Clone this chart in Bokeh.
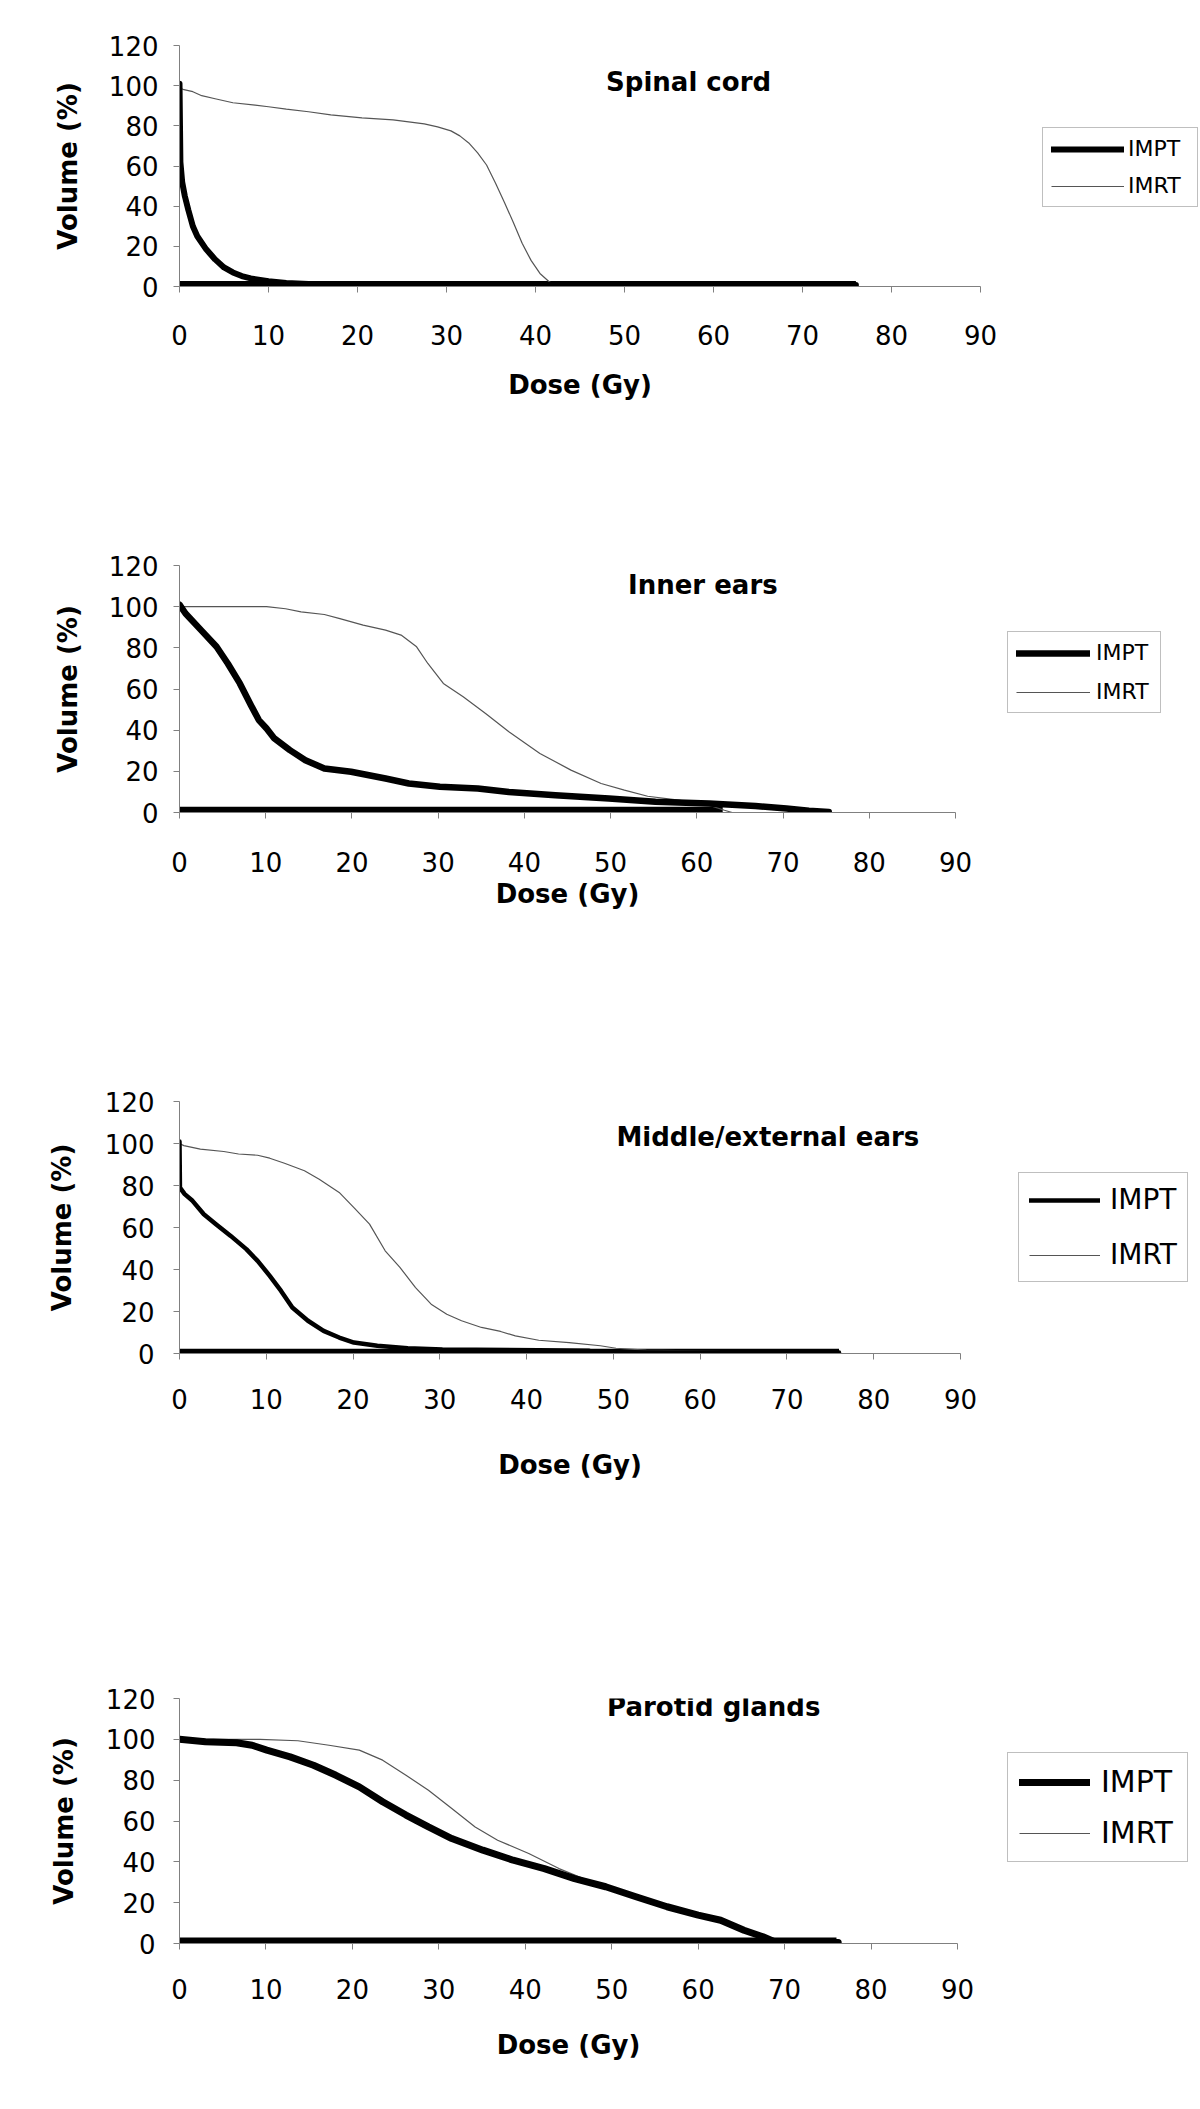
from bokeh.plotting import figure
from bokeh.layouts import column
from bokeh.models import Legend, LegendItem, Label, FixedTicker, Range1d
from bokeh.embed import file_html
from bokeh.resources import INLINE

# ---------------- data ----------------
dose_ticks = [0, 10, 20, 30, 40, 50, 60, 70, 80, 90]
volume_ticks = [0, 20, 40, 60, 80, 100, 120]
series_names = ["IMPT", "IMRT"]
panel_titles = ["Spinal cord", "Inner ears", "Middle/external ears", "Parotid glands"]

# Spinal cord
spinal_impt_dose = [0, 0.1, 0.3, 0.6, 1, 1.5, 2, 3, 4, 5, 6, 7, 8, 10, 12, 14.5, 16, 20, 76]
spinal_impt_vol = [101, 62, 52, 45, 38, 30, 25, 18.5, 13.5, 9.5, 7, 5.2, 4, 2.6, 1.8, 1.3, 1.0, 0.8, 0.8]
spinal_imrt_dose = [0, 0.5, 1.5, 2.5, 4, 6, 8.5, 10, 12, 14.5, 17, 20.5, 24, 27.5, 29, 30.5, 31.5, 32.5,
                    33.5, 34.5, 35.5, 36.5, 37.5, 38.5, 39.5, 40.5, 41.5, 42.3]
spinal_imrt_vol = [99, 98, 97, 95, 93.5, 91.5, 90.3, 89.5, 88.3, 87, 85.5, 84, 83, 81, 79.5, 77.5, 75, 71.5,
                   66.5, 60.5, 51.5, 42, 32, 21.5, 13, 6.5, 2.5, 0.5]

# Inner ears
inner_impt_dose = [0, 0.7, 2.5, 4.3, 5.6, 7, 8.3, 9.2, 10.1, 11, 12.8, 14.6, 16.8, 19.9, 23.9, 26.6, 30.2,
                   34.6, 38.2, 43.6, 49.8, 55.2, 61.4, 66.8, 70.4, 73, 75.3]
inner_impt_vol = [101, 96.7, 88.6, 80.5, 72.4, 62.7, 52, 44.9, 40.8, 36, 30.3, 25.4, 21.4, 19.8, 16.5, 14.1,
                  12.5, 11.7, 10, 8.4, 6.8, 5.2, 4.4, 3.2, 1.9, 0.8, 0.3]
inner_imrt_dose = [0, 10.1, 12.3, 14.1, 16.8, 18.6, 21.3, 23.9, 25.7, 27.5, 28.8, 30.6, 32.9, 35.5, 38.2,
                   41.8, 45.4, 48.9, 51.6, 54.3, 57.9, 61.4, 63.2, 64.1]
inner_imrt_vol = [100, 100, 99, 97.5, 96.2, 94.2, 91, 88.6, 86.2, 80.5, 72.4, 62.7, 56.2, 48.1, 39.2,
                  28.7, 20.6, 14.1, 10.9, 7.9, 6, 3.6, 1.1, 0]

# Middle/external ears
middle_impt_dose = [0, 0.05, 0.6, 1.5, 2.8, 4.2, 5.9, 7.7, 9, 10.4, 11.7, 13, 14.8, 16.6, 18.4, 20.1,
                    22.8, 26.3, 30.3, 41.4, 47.2, 47.6, 76]
middle_impt_vol = [101, 79, 75.9, 72.7, 66.3, 61.6, 56, 49.7, 44.1, 37, 29.8, 21.9, 15.6, 10.8, 7.6, 5.2,
                   3.7, 2.5, 1.9, 1.6, 1.3, 0.5, 0.5]
middle_imrt_dose = [0, 0.5, 2.4, 5.1, 6.8, 9, 10.4, 12.1, 14.4, 16.1, 18.4, 20.1, 21.9, 23.7, 25.4, 27.2,
                    29, 30.8, 32.5, 34.8, 37, 38.7, 41.4, 44.9, 48.5, 50.3, 53.8, 59.1, 62.2, 63.6]
middle_imrt_vol = [100, 99, 97.3, 96.2, 95, 94.4, 93, 90.6, 87, 83, 76.7, 69.5, 61.6, 48.9, 41, 31.4,
                   23.5, 18.7, 15.6, 12.4, 10.5, 8.4, 6.3, 5.2, 3.7, 2.5, 1.6, 1.3, 1.0, 0]

# Parotid glands
parotid_impt_dose = [0, 3, 6.6, 8.4, 10.1, 12.8, 15.5, 18.1, 20.8, 23.5, 26.2, 28.8, 31.5, 35.1, 38.6,
                     42.2, 45.7, 49.3, 52.8, 56.4, 60, 62.6, 65.3, 67.5, 68.9, 70, 76.2]
parotid_impt_vol = [100, 98.8, 98.3, 97.1, 94.7, 91.4, 87.3, 82.4, 76.7, 69.4, 62.9, 57.1, 51.4, 45.7,
                    40.8, 36.7, 31.8, 27.8, 22.9, 18, 13.9, 11.4, 6.5, 3.3, 0.8, 0.5, 0.5]
parotid_imrt_dose = [0, 9.3, 13.7, 17.3, 20.8, 23.5, 26.2, 28.8, 31.5, 34.2, 36.8, 40.4, 43.9, 47.5,
                     51.1, 55.5, 60, 62.6, 65.3, 67.5, 68.9]
parotid_imrt_vol = [100, 100, 99.3, 97.1, 94.7, 89.8, 82.4, 75.1, 66.1, 57.1, 50.6, 44.1, 36.7, 30.5,
                    25.5, 19.2, 13.9, 10.5, 6, 2.5, 0.3]

# IMPT zero-volume baseline (end dose per panel, volume level)
baseline_end_dose = [76, 63, 76, 76]
baseline_vol = 1.2

impt_dose = [spinal_impt_dose, inner_impt_dose, middle_impt_dose, parotid_impt_dose]
impt_vol = [spinal_impt_vol, inner_impt_vol, middle_impt_vol, parotid_impt_vol]
imrt_dose = [spinal_imrt_dose, inner_imrt_dose, middle_imrt_dose, parotid_imrt_dose]
imrt_vol = [spinal_imrt_vol, inner_imrt_vol, middle_imrt_vol, parotid_imrt_vol]

# ---------------- layout / style ----------------
PAGE_W = 1200
FONT = "DejaVu Sans"
AXIS_GRAY = "#808080"

# page coords: fig top, fig height, frame left/right/top/bottom
layouts = [
    dict(T=0, H=520, L=179, R=980, FT=45, FB=286, impt_w=6, leg=(62, 79), leg_fs=22, leg_gw=73,
         leg_pad=8, leg_lw=61, leg_sp=12, leg_std=4, title_xy=(57.2, 101.6),
         xstd=32, xlab_std=22, ystd=15, ylab_std=23),
    dict(T=520, H=540, L=178, R=954, FT=565, FB=812, impt_w=6.5, leg=(52, 99), leg_fs=22, leg_gw=74,
         leg_pad=8, leg_lw=56, leg_sp=14, leg_std=6, title_xy=(60.7, 110.3),
         xstd=33, xlab_std=4, ystd=15, ylab_std=23),
    dict(T=1060, H=590, L=179, R=960, FT=1101, FB=1353, impt_w=4.5, leg=(58, 71), leg_fs=28, leg_gw=71,
         leg_pad=10, leg_lw=67, leg_sp=22, leg_std=10, title_xy=(67.8, 103.3),
         xstd=29, xlab_std=38, ystd=19, ylab_std=25),
    dict(T=1650, H=459, L=174, R=952, FT=1698, FB=1943, impt_w=7, leg=(50, 81), leg_fs=30, leg_gw=71,
         leg_pad=11, leg_lw=75, leg_sp=16, leg_std=11, title_xy=(61.8, 116.0),
         xstd=29, xlab_std=28, ystd=18, ylab_std=24),
]

figs = []
for i, cfg in enumerate(layouts):
    fw = cfg["R"] - cfg["L"]
    fh = cfg["FB"] - cfg["FT"]
    bl = cfg["L"]
    bt = cfg["FT"] - cfg["T"]
    br = PAGE_W - bl - fw
    bb = cfg["H"] - bt - fh
    p = figure(frame_width=fw, frame_height=fh, min_border_left=bl, min_border_right=br,
               min_border_top=bt, min_border_bottom=bb,
               x_range=Range1d(0, 90), y_range=Range1d(0, 120),
               output_backend="svg", toolbar_location=None)
    p.outline_line_color = None
    p.grid.visible = False
    p.background_fill_color = "white"
    p.border_fill_color = "white"

    for ax in (p.xaxis[0], p.yaxis[0]):
        ax.axis_line_color = AXIS_GRAY
        ax.major_tick_line_color = AXIS_GRAY
        ax.major_tick_in = 0
        ax.major_tick_out = 6
        ax.minor_tick_line_color = None
        ax.major_label_text_font = FONT
        ax.major_label_text_font_size = "26px"
        ax.major_label_text_color = "black"
        ax.axis_label_text_font = FONT
        ax.axis_label_text_font_style = "bold"
        ax.axis_label_text_font_size = "26px"
        ax.axis_label_text_color = "black"

    p.xaxis[0].ticker = FixedTicker(ticks=dose_ticks)
    p.yaxis[0].ticker = FixedTicker(ticks=volume_ticks)
    p.xaxis[0].axis_label = "Dose (Gy)"
    p.yaxis[0].axis_label = "Volume (%)"
    p.xaxis[0].major_label_standoff = cfg["xstd"]
    p.xaxis[0].axis_label_standoff = cfg["xlab_std"]
    p.yaxis[0].major_label_standoff = cfg["ystd"]
    p.yaxis[0].axis_label_standoff = cfg["ylab_std"]

    p.line([0, baseline_end_dose[i]], [baseline_vol, baseline_vol], line_color="black",
           line_width=cfg["impt_w"])
    r_imrt = p.line(imrt_dose[i], imrt_vol[i], line_color="#555555", line_width=1.2)
    r_impt = p.line(impt_dose[i], impt_vol[i], line_color="black", line_width=cfg["impt_w"],
                    line_join="round", line_cap="round")

    legend = Legend(items=[LegendItem(label=series_names[0], renderers=[r_impt]),
                           LegendItem(label=series_names[1], renderers=[r_imrt])],
                    location=cfg["leg"], margin=0, padding=cfg["leg_pad"], spacing=cfg["leg_sp"],
                    glyph_width=cfg["leg_gw"], glyph_height=20, label_standoff=cfg["leg_std"],
                    label_width=cfg["leg_lw"],
                    label_text_font=FONT, label_text_font_size=f'{cfg["leg_fs"]}px',
                    label_text_color="black",
                    border_line_color=AXIS_GRAY, border_line_width=1,
                    background_fill_color="white", background_fill_alpha=1.0)
    p.add_layout(legend, "right")

    tx, ty = cfg["title_xy"]
    p.add_layout(Label(x=tx, y=ty, text=panel_titles[i], text_align="center", text_baseline="middle",
                       text_font=FONT, text_font_style="bold", text_font_size="26px",
                       text_color="black"))
    figs.append(p)

layout = column(*figs, spacing=0)
open("out.html", "w").write(file_html(layout, INLINE))
